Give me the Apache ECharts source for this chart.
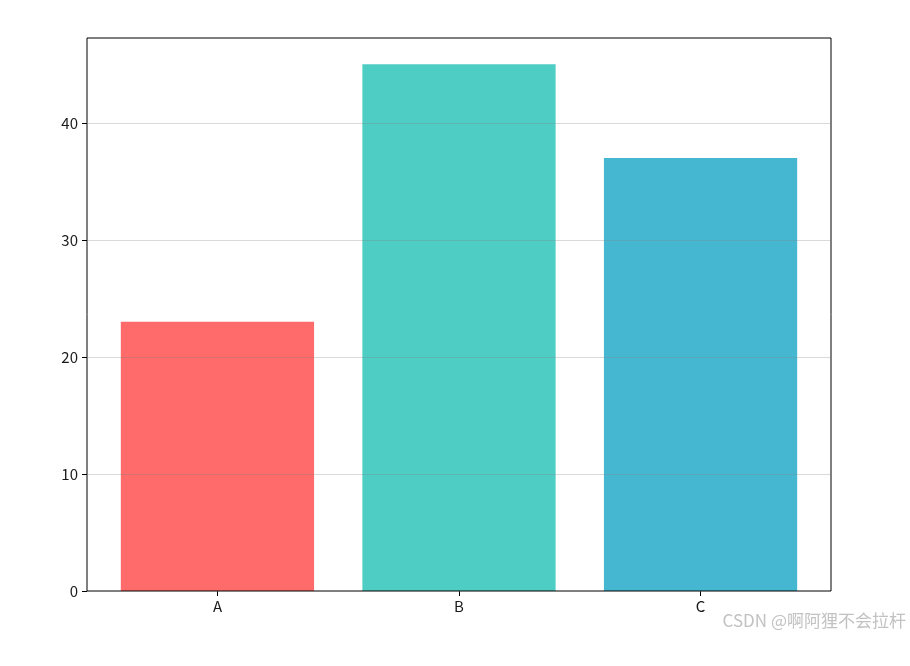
<!DOCTYPE html>
<html><head><meta charset="utf-8">
<script src="https://cdn.jsdelivr.net/npm/echarts@6/dist/echarts.min.js"></script>
<style>html,body{margin:0;padding:0;background:#fff}#c{width:910px;height:666px}</style>
</head><body><div id="c"></div>
<script>
const categories = ['A', 'B', 'C'];
const values = [23, 45, 37];
const colors = ['#FF6B6B', '#4ECDC4', '#45B7D1'];
const yTicks = [0, 10, 20, 30, 40];
const yMax = 47.25;

const font = '"Noto Sans CJK SC", "DejaVu Sans", sans-serif';
// frame grid: 87..831 x 38..591 ; bar grid inset so band = 744/3.08
const u = 744 / 3.08;
const inset = (744 - 3 * u) / 2;
const chart = echarts.init(document.getElementById('c'));
chart.setOption({
  animation: false,
  backgroundColor: '#fff',
  grid: [
    { left: 87, right: 79, top: 38, bottom: 75, show: true, borderColor: '#000', borderWidth: 1, backgroundColor: 'transparent', z: 3 },
    { left: 87 + inset, right: 79 + inset, top: 38, bottom: 75 }
  ],
  xAxis: [
    { type: 'value', gridIndex: 0, min: 0, max: 1, show: false },
    { type: 'category', gridIndex: 1, data: categories,
      axisLine: { show: false },
      axisTick: { show: true, alignWithLabel: true, length: 5, lineStyle: { color: '#000' } },
      axisLabel: { color: '#1a1a1a', fontSize: 15, fontFamily: font, margin: 8 } }
  ],
  yAxis: [
    { type: 'value', gridIndex: 0, min: 0, max: yMax, interval: 10, z: 5,
      axisLine: { show: false },
      axisTick: { show: true, length: 5, customValues: yTicks, lineStyle: { color: '#000' } },
      axisLabel: { color: '#1a1a1a', fontSize: 15, fontFamily: font, margin: 9, customValues: yTicks },
      splitLine: { show: true, lineStyle: { color: 'rgba(128,128,128,0.3)', width: 1 } } },
    { type: 'value', gridIndex: 1, min: 0, max: yMax, show: false }
  ],
  series: [{
    type: 'bar', xAxisIndex: 1, yAxisIndex: 1, barWidth: '80%', z: 2,
    data: values.map((v, i) => ({ value: v, itemStyle: { color: colors[i] } }))
  }],
  graphic: [{
    type: 'text', right: 4, top: 612,
    style: { text: 'CSDN @啊阿狸不会拉杆', fill: '#c2c2c2', font: '17px ' + font }
  }]
});
</script></body></html>
